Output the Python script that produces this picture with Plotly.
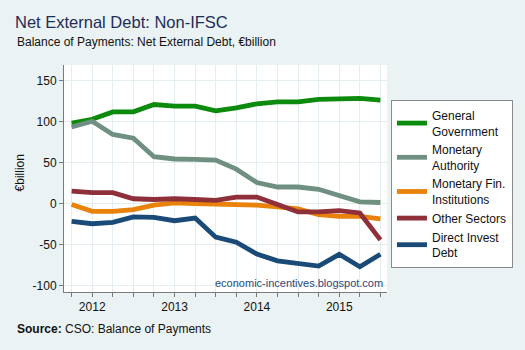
import plotly.graph_objects as go

quarters = list(range(16))
year_ticks = [1, 5, 9, 13]
year_labels = ["2012", "2013", "2014", "2015"]
y_ticks = [-100, -50, 0, 50, 100, 150]
y_labels = ["-100", "-50", "0", "50", "100", "150"]

general_government = [98.2, 102.8, 111.8, 111.8, 120.8, 118.8, 118.8, 113.0, 116.7, 121.7, 124.0, 124.0, 127.0, 128.2, 128.2, 126.2]
monetary_authority = [93.3, 100.3, 84.3, 79.7, 57.1, 54.3, 53.8, 53.0, 41.9, 25.5, 20.1, 20.1, 17.3, 10.3, 2.0, 1.2]
monetary_fin = [-1.2, -9.5, -9.5, -7.4, -2.0, 0.8, 0.0, -0.4, -2.0, -2.0, -4.1, -6.6, -13.6, -15.6, -15.6, -18.9]
other_sectors = [15.2, 13.2, 13.2, 5.8, 4.9, 5.8, 4.9, 3.7, 7.8, 7.8, -1.2, -10.3, -10.3, -8.6, -11.5, -44.4]
direct_invest = [-21.8, -24.7, -23.0, -16.4, -16.9, -21.0, -17.7, -41.1, -47.3, -61.7, -69.9, -73.2, -76.4, -62.0, -77.2, -62.0]

series = [
    ("General<br>Government", general_government, "#0b8a0b"),
    ("Monetary<br>Authority", monetary_authority, "#6f8f80"),
    ("Monetary Fin.<br>Institutions", monetary_fin, "#e8820a"),
    ("Other Sectors", other_sectors, "#8f2f3a"),
    ("Direct Invest<br>Debt", direct_invest, "#1a4a78"),
]

fig = go.Figure()
for name, vals, col in series:
    fig.add_trace(go.Scatter(x=quarters, y=vals, mode="lines", name=name,
                             line=dict(color=col, width=4.8)))

W, H = 525, 350
L, R, T, B = 64, 390, 65, 292
pw, ph = R - L, B - T

def px(x):
    return (x - L) / pw

def py(y):
    return (B - y) / ph

fig.update_layout(
    width=W, height=H,
    margin=dict(l=L, r=W - R, t=T, b=H - B),
    paper_bgcolor="#eaf2f3",
    plot_bgcolor="white",
    font=dict(family="Liberation Sans, Arial", size=12, color="#222222"),
    showlegend=True,
    legend=dict(x=px(394), y=py(100), xanchor="left", yanchor="top",
                bgcolor="white", bordercolor="#8a8a8a", borderwidth=1,
                font=dict(size=12, color="#111111"), itemwidth=30,
                tracegroupgap=0),
    title=dict(text="Net External Debt: Non-IFSC", x=15 / W, xanchor="left",
               y=1 - 22 / H, yanchor="middle", xref="container", yref="container",
               font=dict(size=16.5, color="#1e2d5a")),
)

fig.update_xaxes(
    range=[-0.37, 15.32], tickmode="array", tickvals=quarters,
    ticktext=[year_labels[year_ticks.index(q)] if q in year_ticks else "" for q in quarters],
    showgrid=True, gridcolor="#e4edf0", gridwidth=1,
    showline=True, linecolor="#7a7a7a", linewidth=1,
    ticks="outside", ticklen=4, tickcolor="#7a7a7a",
    zeroline=False, tickfont=dict(size=12, color="#111111"),
)
fig.update_yaxes(
    range=[-108, 169], tickmode="array", tickvals=y_ticks, ticktext=y_labels,
    showgrid=True, gridcolor="#e4edf0", gridwidth=1,
    showline=True, linecolor="#7a7a7a", linewidth=1,
    ticks="outside", ticklen=4, tickcolor="#7a7a7a",
    zeroline=False, tickfont=dict(size=12, color="#111111"),
)

fig.add_shape(type="line", xref="paper", yref="y", x0=0, x1=1, y0=0, y1=0,
              line=dict(color="#3a6a9a", width=1, dash="dash"), layer="below")

fig.add_annotation(text="Balance of Payments: Net External Debt, €billion",
                   xref="paper", yref="paper", x=px(15), y=py(42),
                   xanchor="left", yanchor="middle", showarrow=False,
                   font=dict(size=12, color="#111111"))
fig.add_annotation(text="<b>Source:</b> CSO: Balance of Payments",
                   xref="paper", yref="paper", x=px(15), y=py(329),
                   xanchor="left", yanchor="middle", showarrow=False,
                   font=dict(size=12, color="#111111"))
fig.add_annotation(text="€billion", textangle=-90,
                   xref="paper", yref="paper", x=px(20), y=py(173),
                   xanchor="center", yanchor="middle", showarrow=False,
                   font=dict(size=12, color="#111111"))
fig.add_annotation(text="economic-incentives.blogspot.com",
                   xref="paper", yref="paper", x=px(388), y=py(283),
                   xanchor="right", yanchor="middle", showarrow=False,
                   font=dict(size=11, color="#2a4a7a"))

fig.write_html("out.html")
